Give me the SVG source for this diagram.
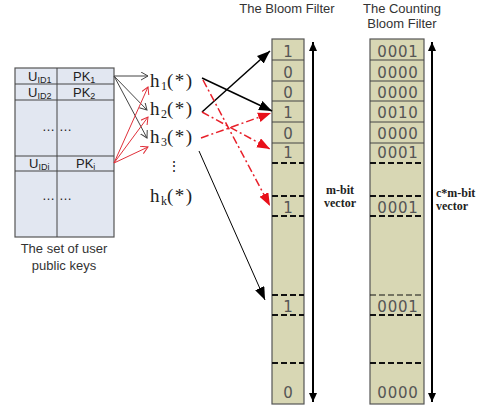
<svg xmlns="http://www.w3.org/2000/svg" width="487" height="414" viewBox="0 0 487 414">
<style>
.title{font-family:"Liberation Sans",Arial,sans-serif;font-size:13px;fill:#333}
.cell{font-family:"Liberation Sans",Arial,sans-serif;font-size:13px;fill:#222}
.sub{font-size:9px}
.hash{font-family:"Liberation Serif","Times New Roman",serif;font-size:19px;fill:#222;letter-spacing:1.5px}
.hsub{font-size:12px;letter-spacing:0}
.bit{font-family:"DejaVu Sans",sans-serif;font-size:15px;fill:#555;text-anchor:middle}
.cbit{font-family:"DejaVu Sans",sans-serif;font-size:15px;fill:#555;text-anchor:middle;letter-spacing:0.8px}
.vlab{font-family:"Liberation Serif","Times New Roman",serif;font-size:12px;font-weight:bold;fill:#222}
.tbl{fill:#e2e7f1;stroke:#555;stroke-width:1.2}
.col{fill:#d8d7b4;stroke:#555;stroke-width:1.2}
.row{stroke:#444;stroke-width:1}
.dash{stroke:#111;stroke-width:2;stroke-dasharray:6 3}
.thinb{stroke:#444;stroke-width:1;fill:none}
.thinr{stroke:#e0303a;stroke-width:1;fill:none}
.bigb{stroke:#000;stroke-width:1.5;fill:none}
.thinb2{stroke:#000;stroke-width:1;fill:none}
.redd{stroke:#e8202a;stroke-width:1.5;fill:none;stroke-dasharray:8 3 2 3}
.vax{stroke:#000;stroke-width:2;fill:none}
</style>
<defs>
<marker id="ob" markerUnits="userSpaceOnUse" markerWidth="10" markerHeight="10" refX="7" refY="4" orient="auto"><path d="M0,0 L7,4 L0,8" fill="none" stroke="#444" stroke-width="1"/></marker>
<marker id="or" markerUnits="userSpaceOnUse" markerWidth="10" markerHeight="10" refX="7" refY="4" orient="auto"><path d="M0,0 L7,4 L0,8" fill="none" stroke="#e0303a" stroke-width="1"/></marker>
<marker id="fb" markerUnits="userSpaceOnUse" markerWidth="16" markerHeight="12" refX="13" refY="5" orient="auto"><path d="M0,0 L13,5 L0,10 z" fill="#000"/></marker>
<marker id="fr" markerUnits="userSpaceOnUse" markerWidth="16" markerHeight="12" refX="13" refY="5" orient="auto"><path d="M0,0 L13,5 L0,10 z" fill="#e8101a"/></marker>
<marker id="va" markerUnits="userSpaceOnUse" markerWidth="12" markerHeight="12" refX="9" refY="4" orient="auto-start-reverse"><path d="M0,0 L9,4 L0,8 z" fill="#000"/></marker>
</defs>

<g id="user-keys">
<rect class="tbl" x="15" y="68" width="99" height="169"/>
<line class="row" x1="57" y1="68" x2="57" y2="237"/>
<line class="row" x1="15" y1="84" x2="114" y2="84"/>
<line class="row" x1="15" y1="100" x2="114" y2="100"/>
<line class="row" x1="15" y1="156" x2="114" y2="156"/>
<line class="row" x1="15" y1="171" x2="114" y2="171"/>
<text class="cell" x="28" y="81">U<tspan class="sub" dy="2">ID1</tspan></text>
<text class="cell" x="73" y="81">PK<tspan class="sub" dy="2">1</tspan></text>
<text class="cell" x="28" y="97">U<tspan class="sub" dy="2">ID2</tspan></text>
<text class="cell" x="73" y="97">PK<tspan class="sub" dy="2">2</tspan></text>
<text class="cell" x="55" y="131" text-anchor="end">…</text>
<text class="cell" x="59" y="131">…</text>
<text class="cell" x="29" y="168">U<tspan class="sub" dy="2">IDi</tspan></text>
<text class="cell" x="76" y="168">PK<tspan class="sub" dy="2">i</tspan></text>
<text class="cell" x="55" y="200" text-anchor="end">…</text>
<text class="cell" x="59" y="200">…</text>
<text class="title" x="64" y="253" text-anchor="middle">The set of user</text>
<text class="title" x="64" y="270" text-anchor="middle">public keys</text>
</g>

<g id="hash-functions">
<text class="hash" x="150" y="87">h<tspan class="hsub" dy="3">1</tspan><tspan dy="-3">(*)</tspan></text>
<text class="hash" x="150" y="115">h<tspan class="hsub" dy="3">2</tspan><tspan dy="-3">(*)</tspan></text>
<text class="hash" x="150" y="143">h<tspan class="hsub" dy="3">3</tspan><tspan dy="-3">(*)</tspan></text>
<text class="hash" x="167" y="171" style="letter-spacing:0;font-size:14px">⋮</text>
<text class="hash" x="150" y="202">h<tspan class="hsub" dy="3">k</tspan><tspan dy="-3">(*)</tspan></text>
</g>

<g id="bloom-filter">
<text class="title" x="287" y="13" text-anchor="middle">The Bloom Filter</text>
<rect class="col" x="272" y="39" width="32" height="365"/>
<line class="row" x1="272" y1="60" x2="304" y2="60"/>
<line class="row" x1="272" y1="81" x2="304" y2="81"/>
<line class="row" x1="272" y1="101" x2="304" y2="101"/>
<line class="row" x1="272" y1="122" x2="304" y2="122"/>
<line class="row" x1="272" y1="143" x2="304" y2="143"/>
<line class="dash" x1="272" y1="163" x2="304" y2="163"/>
<line class="dash" x1="272" y1="196" x2="304" y2="196"/>
<line class="dash" x1="272" y1="216" x2="304" y2="216"/>
<line class="dash" x1="272" y1="295" x2="304" y2="295"/>
<line class="dash" x1="272" y1="315" x2="304" y2="315"/>
<line class="dash" x1="272" y1="363" x2="304" y2="363"/>
<text class="bit" x="288" y="57">1</text>
<text class="bit" x="288" y="78">0</text>
<text class="bit" x="288" y="98">0</text>
<text class="bit" x="288" y="118">1</text>
<text class="bit" x="288" y="139">0</text>
<text class="bit" x="288" y="158">1</text>
<text class="bit" x="288" y="213">1</text>
<text class="bit" x="288" y="312">1</text>
<text class="bit" x="288" y="398">0</text>
<line class="vax" x1="313" y1="42" x2="313" y2="402" marker-start="url(#va)" marker-end="url(#va)"/>
<text class="vlab" x="340" y="194" text-anchor="middle">m-bit</text>
<text class="vlab" x="340" y="207" text-anchor="middle">vector</text>
</g>

<g id="counting-bloom-filter">
<text class="title" x="402" y="13" text-anchor="middle">The Counting</text>
<text class="title" x="402" y="28" text-anchor="middle">Bloom Filter</text>
<rect class="col" x="370" y="39" width="54" height="365"/>
<line class="row" x1="370" y1="60" x2="424" y2="60"/>
<line class="row" x1="370" y1="81" x2="424" y2="81"/>
<line class="row" x1="370" y1="101" x2="424" y2="101"/>
<line class="row" x1="370" y1="122" x2="424" y2="122"/>
<line class="row" x1="370" y1="143" x2="424" y2="143"/>
<line class="dash" x1="370" y1="163" x2="424" y2="163"/>
<line class="dash" x1="370" y1="196" x2="424" y2="196"/>
<line class="dash" x1="370" y1="216" x2="424" y2="216"/>
<line class="dash" x1="370" y1="295" x2="424" y2="295" style="stroke-width:1"/>
<line class="dash" x1="370" y1="315" x2="424" y2="315"/>
<line class="dash" x1="370" y1="363" x2="424" y2="363"/>
<text class="cbit" x="398" y="57">0001</text>
<text class="cbit" x="398" y="78">0000</text>
<text class="cbit" x="398" y="98">0000</text>
<text class="cbit" x="398" y="118">0010</text>
<text class="cbit" x="398" y="139">0000</text>
<text class="cbit" x="398" y="158">0001</text>
<text class="cbit" x="398" y="213">0001</text>
<text class="cbit" x="398" y="312">0001</text>
<text class="cbit" x="398" y="398">0000</text>
<line class="vax" x1="432" y1="42" x2="432" y2="402" marker-start="url(#va)" marker-end="url(#va)"/>
<text class="vlab" x="436" y="197">c*m-bit</text>
<text class="vlab" x="436" y="210">vector</text>
</g>

<g id="connectors">
<line class="thinb" x1="114" y1="76" x2="148" y2="76" marker-end="url(#ob)"/>
<line class="thinb" x1="114" y1="76" x2="147" y2="110" marker-end="url(#ob)"/>
<line class="thinb" x1="114" y1="76" x2="147" y2="138" marker-end="url(#ob)"/>
<line class="thinr" x1="114" y1="163" x2="148" y2="87" marker-end="url(#or)"/>
<line class="thinr" x1="114" y1="163" x2="148" y2="117" marker-end="url(#or)"/>
<line class="thinr" x1="114" y1="163" x2="148" y2="147" marker-end="url(#or)"/>
<line class="bigb" x1="202" y1="78" x2="272" y2="111" marker-end="url(#fb)"/>
<line class="bigb" x1="202" y1="112" x2="270" y2="51" marker-end="url(#fb)"/>
<line class="thinb2" x1="199" y1="151" x2="265" y2="300" marker-end="url(#fb)"/>
<line class="redd" x1="203" y1="80" x2="270" y2="206" marker-end="url(#fr)"/>
<line class="redd" x1="202" y1="112" x2="270" y2="149" marker-end="url(#fr)"/>
<line class="redd" x1="201" y1="138" x2="271" y2="113" marker-end="url(#fr)"/>
</g>
</svg>
